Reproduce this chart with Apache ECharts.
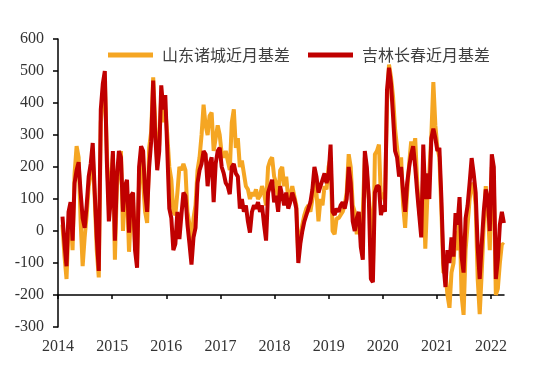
<!DOCTYPE html>
<html>
<head>
<meta charset="utf-8">
<script src="https://cdn.jsdelivr.net/npm/echarts@6/dist/echarts.min.js"></script>
<style>
  html, body { margin: 0; padding: 0; background: #fff; }
  #chart { width: 550px; height: 376px; }
</style>
</head>
<body>
<div id="chart"></div>
<script>
// 两个近月基差序列（约两周一个点，2014年2月 ~ 2022年3月）
var seriesNames = ['山东诸城近月基差', '吉林长春近月基差']
var yearTicks = [2014, 2015, 2016, 2017, 2018, 2019, 2020, 2021, 2022]
var startYear = 2014.083
var endYear = 2022.238

var zhuchengBasis = [
  // 2014
  20, -80, -150, 20, 60, -60, 180, 265, 230, 30, -110, -20, 50, 140, 180, 240, 100, -60, -145, 340, 420, 470, 250, 80, 150,
  // 2015
  240, -90, 140, 200, 250, 0, 120, 130, -65, 60, 90, -40, -90, 150, 220, 150, 60, 25, 260, 310, 480, 340, 210, 270, 420, 340,
  // 2016
  380, 300, 200, 160, 60, 50, 120, 200, 190, 210, 190, 60, 20, -80, 40, 80, 190, 230, 300, 395, 330, 300, 360, 370, 250, 290,
  // 2017
  330, 300, 240, 230, 250, 220, 190, 340, 380, 260, 290, 200, 220, 180, 140, 130, 100, 120, 110, 130, 100, 110, 140, 120, 80, 200,
  // 2018
  220, 230, 170, 150, 90, 190, 200, 140, 170, 100, 110, 140, 110, 80, -80, -20, 20, 50, 70, 80, 60, 100, 160, 120, 30, 100, 80, 140,
  // 2019
  130, 200, 230, 0, -10, 40, 40, 50, 60, 80, 120, 240, 200, 80, 60, -10, 40, 20, 60, 230, 180, 100, 40, -130, 240, 250,
  // 2020
  270, 100, 120, 90, 400, 520, 480, 420, 320, 260, 200, 230, 80, 10, 120, 210, 280, 250, 290, 150, 60, 20, 180, -55, 100, 180, 300, 465,
  // 2021
  330, 260, 230, 60, -130, -130, -200, -240, -130, -100, 0, -60, 50, -200, -262, -60, 20, 100, 150, 140, 80, -150, -260, -130, 20, 140, 80,
  // 2022
  -60, 200, 150, -200, -180, -100, -40, -44
]

var changchunBasis = [
  // 2014
  45, -40, -110, 60, 90, -30, 150, 190, 215, 120, 40, 10, 80, 170, 210, 275, 120, -20, -125, 380, 460, 500, 220, 30, 100,
  // 2015
  250, -30, 170, 250, 230, 60, 140, 160, -5, 110, 120, -60, -115, 200, 265, 250, 120, 60, 200, 280, 470, 300, 190, 250, 455, 380,
  // 2016
  425, 250, 70, 40, -60, -40, 60, -25, 50, 120, 110, 20, -40, -105, -20, 10, 150, 190, 210, 250, 240, 140, 210, 230, 90, 210,
  // 2017
  250, 260, 200, 180, 150, 140, 115, 200, 210, 180, 170, 70, 100, 60, 80, 30, -5, 60, 80, 70, 90, 60, 80, 20, -30, 120,
  // 2018
  140, 160, 90, 110, 60, 140, 110, 80, 120, 70, 90, 120, 100, 70, -100, -40, 0, 30, 50, 70, 90, 130, 200, 170, 120, 140, 160, 180,
  // 2019
  150, 170, 270, 60, 50, 70, 60, 80, 90, 70, 100, 200, 150, 30, 0, 40, 60, -50, -90, 250, 200, 100, -150, -160, 120, 140,
  // 2020
  140, 50, 80, 60, 440, 510, 460, 360, 250, 230, 170, 200, 120, 60, 150, 200, 240, 265, 200, 120, 50, -20, 270, 100, 180, 100, 290, 320,
  // 2021
  290, 250, 260, 100, -100, -175, -60, -100, -20, -80, 56, 20, 106, -80, -130, 40, 80, 150, 228, 180, 120, -50, -150, -40, 60, 130, 100,
  // 2022
  0, 240, 200, -150, -90, 20, 60, 25
]

// 日期（小数年），按等间距排布
var dates = []
var step = (endYear - startYear) / (changchunBasis.length - 1)
for (var i = 0; i < changchunBasis.length; i++) {
  dates.push(startYear + i * step)
}

function pairs(values) {
  return values.map(function(v, i) { return [dates[i], v] })
}

var chart = echarts.init(document.getElementById('chart'))
chart.setOption({
  animation: false,
  grid: { left: 58, right: 46, top: 39, bottom: 49 },
  legend: {
    data: seriesNames,
    left: 103,
    top: 42,
    icon: 'rect',
    itemWidth: 45,
    itemHeight: 5,
    itemGap: 18,
    textStyle: {
      fontFamily: 'Noto Sans CJK SC',
      fontSize: 16,
      color: '#404040',
      padding: [0, 0, 0, 4]
    }
  },
  xAxis: {
    type: 'value',
    min: 2014,
    max: 2022.24,
    offset: -32,
    splitLine: { show: false },
    axisLine: { show: true, onZero: false, lineStyle: { color: '#000', width: 1.5 } },
    axisTick: { show: true, length: 4, customValues: yearTicks, lineStyle: { color: '#000', width: 1.5 } },
    axisLabel: {
      customValues: yearTicks,
      margin: 44,
      fontFamily: 'Liberation Serif',
      fontSize: 16,
      color: '#333',
      formatter: function(v) { return String(Math.round(v)) }
    }
  },
  yAxis: {
    type: 'value',
    min: -300,
    max: 600,
    interval: 100,
    splitLine: { show: false },
    axisLine: { show: true, lineStyle: { color: '#000', width: 1.5 } },
    axisTick: { show: true, length: 5, lineStyle: { color: '#000', width: 1.5 } },
    axisLabel: {
      margin: 14,
      fontFamily: 'Liberation Serif',
      fontSize: 16,
      color: '#333'
    }
  },
  series: [
    {
      name: seriesNames[0],
      type: 'line',
      showSymbol: false,
      data: pairs(zhuchengBasis),
      itemStyle: { color: '#F5A623' },
      lineStyle: { color: '#F5A623', width: 4 }
    },
    {
      name: seriesNames[1],
      type: 'line',
      showSymbol: false,
      data: pairs(changchunBasis),
      itemStyle: { color: '#C00000' },
      lineStyle: { color: '#C00000', width: 4 }
    }
  ]
})
</script>
</body>
</html>
